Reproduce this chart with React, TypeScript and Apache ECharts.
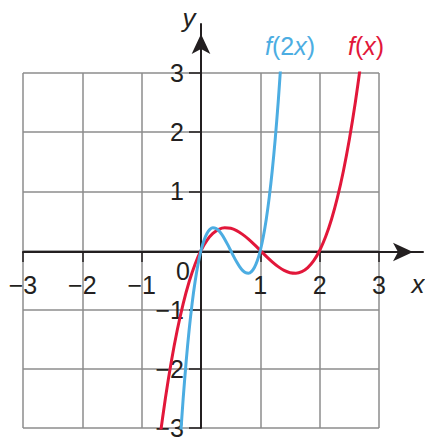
import React, { useEffect, useRef } from "react";
import * as echarts from "echarts";

// f(x) = x(x − 1)(x − 2), sampled along x
const fX = [-0.7, -0.6, -0.5, -0.4, -0.3, -0.2, -0.1, 0, 0.1, 0.2, 0.3, 0.4, 0.5, 0.6, 0.7, 0.8, 0.9, 1, 1.1, 1.2, 1.3, 1.4, 1.5, 1.6, 1.7, 1.8, 1.9, 2, 2.1, 2.2, 2.3, 2.4, 2.5, 2.6, 2.7];
const fY = [-3.213, -2.496, -1.875, -1.344, -0.897, -0.528, -0.231, 0, 0.171, 0.288, 0.357, 0.384, 0.375, 0.336, 0.273, 0.192, 0.099, 0, -0.099, -0.192, -0.273, -0.336, -0.375, -0.384, -0.357, -0.288, -0.171, 0, 0.231, 0.528, 0.897, 1.344, 1.875, 2.496, 3.213];

// f(2x): the same curve squeezed horizontally by a factor of two
const f2X = [-0.35, -0.3, -0.25, -0.2, -0.15, -0.1, -0.05, 0, 0.05, 0.1, 0.15, 0.2, 0.25, 0.3, 0.35, 0.4, 0.45, 0.5, 0.55, 0.6, 0.65, 0.7, 0.75, 0.8, 0.85, 0.9, 0.95, 1, 1.05, 1.1, 1.15, 1.2, 1.25, 1.3, 1.35];
const f2Y = [-3.213, -2.496, -1.875, -1.344, -0.897, -0.528, -0.231, 0, 0.171, 0.288, 0.357, 0.384, 0.375, 0.336, 0.273, 0.192, 0.099, 0, -0.099, -0.192, -0.273, -0.336, -0.375, -0.384, -0.357, -0.288, -0.171, 0, 0.231, 0.528, 0.897, 1.344, 1.875, 2.496, 3.213];

const tickValues = [-3, -2, -1, 1, 2, 3];

const RED = "#e2173a";
const BLUE = "#4cade2";
const INK = "#231f20";
const GRID = "#8c8c8c";
const FONT = "Liberation Sans, Arial, sans-serif";

const minus = (v: string | number) => String(v).replace("-", "\u2212");

const hiddenAxis = (gridIndex: number) => ({
  gridIndex,
  type: "value",
  min: 0,
  max: 1,
  show: false,
});

const arrowLine = {
  onZero: false,
  lineStyle: { color: INK, width: 2 },
  symbol: ["none", "arrow"],
  symbolSize: [14, 20],
  symbolOffset: [0, -10],
};

export default function App() {
  const ref = useRef<HTMLDivElement>(null);

  useEffect(() => {
    if (!ref.current) return;
    const chart = echarts.init(ref.current, null, { renderer: "svg" });

    const red = fX.map((x, i) => [x, fY[i]]);
    const blue = f2X.map((x, i) => [x, f2Y[i]]);

    chart.setOption({
      animation: false,
      grid: [
        // square graph-paper box from -3 to 3
        { left: 23, top: 73, width: 356, height: 355, outerBoundsMode: "none" },
        // horizontal axis: bottom edge of this grid sits on y = 0
        { left: 23, right: 2, top: 200, height: 52, outerBoundsMode: "none" },
        // vertical axis: left edge of this grid sits on x = 0
        { left: 201, width: 50, top: 24, bottom: 11, outerBoundsMode: "none" },
      ],
      xAxis: [
        {
          gridIndex: 0,
          type: "value",
          min: -3,
          max: 3,
          interval: 1,
          axisLine: { show: false },
          axisTick: { show: false },
          axisLabel: { show: false },
          splitLine: { show: true, lineStyle: { color: GRID, width: 1.5 } },
          z: 0,
        },
        {
          gridIndex: 1,
          type: "value",
          position: "bottom",
          min: -3,
          max: 3.742,
          interval: 1,
          z: 3,
          axisLine: arrowLine,
          axisTick: {
            show: true,
            length: 10,
            lineStyle: { color: INK, width: 1.5 },
            customValues: tickValues,
          },
          axisLabel: {
            customValues: tickValues,
            formatter: minus,
            fontFamily: FONT,
            fontSize: 25,
            color: INK,
            margin: 20,
          },
          splitLine: { show: false },
        },
        hiddenAxis(2),
      ],
      yAxis: [
        {
          gridIndex: 0,
          type: "value",
          min: -3,
          max: 3,
          interval: 1,
          axisLine: { show: false },
          axisTick: { show: false },
          axisLabel: { show: false },
          splitLine: { show: true, lineStyle: { color: GRID, width: 1.5 } },
          z: 0,
        },
        hiddenAxis(1),
        {
          gridIndex: 2,
          type: "value",
          position: "left",
          min: -3,
          max: 3.83,
          interval: 1,
          z: 3,
          axisLine: arrowLine,
          axisTick: {
            show: true,
            length: 12,
            lineStyle: { color: INK, width: 1.5 },
            customValues: tickValues,
          },
          axisLabel: {
            customValues: tickValues,
            formatter: minus,
            fontFamily: FONT,
            fontSize: 25,
            color: INK,
            margin: 17,
          },
          splitLine: { show: false },
        },
      ],
      series: [
        {
          name: "f(x)",
          type: "line",
          xAxisIndex: 0,
          yAxisIndex: 0,
          data: red,
          smooth: 0.3,
          showSymbol: false,
          clip: true,
          lineStyle: { color: RED, width: 3 },
          z: 5,
        },
        {
          name: "f(2x)",
          type: "line",
          xAxisIndex: 0,
          yAxisIndex: 0,
          data: blue,
          smooth: 0.3,
          showSymbol: false,
          clip: true,
          lineStyle: { color: BLUE, width: 3 },
          z: 6,
        },
      ],
      graphic: [
        {
          type: "text",
          x: 183,
          y: 271,
          style: {
            text: "0",
            fontFamily: FONT,
            fontSize: 25,
            fill: INK,
            align: "center",
            verticalAlign: "middle",
          },
        },
        {
          type: "text",
          x: 418,
          y: 284,
          style: {
            text: "x",
            fontFamily: FONT,
            fontStyle: "italic",
            fontSize: 26,
            fill: INK,
            align: "center",
            verticalAlign: "middle",
          },
        },
        {
          type: "text",
          x: 189,
          y: 18,
          style: {
            text: "y",
            fontFamily: FONT,
            fontStyle: "italic",
            fontSize: 26,
            fill: INK,
            align: "center",
            verticalAlign: "middle",
          },
        },
        {
          type: "text",
          x: 290,
          y: 46,
          style: {
            text: "{i|f}{n|(2}{i|x}{n|)}",
            align: "center",
            verticalAlign: "middle",
            rich: {
              i: { fontFamily: FONT, fontStyle: "italic", fontSize: 25, fill: BLUE, color: BLUE },
              n: { fontFamily: FONT, fontSize: 25, fill: BLUE, color: BLUE },
            },
          },
        },
        {
          type: "text",
          x: 366,
          y: 46,
          style: {
            text: "{i|f}{n|(}{i|x}{n|)}",
            align: "center",
            verticalAlign: "middle",
            rich: {
              i: { fontFamily: FONT, fontStyle: "italic", fontSize: 25, fill: RED, color: RED },
              n: { fontFamily: FONT, fontSize: 25, fill: RED, color: RED },
            },
          },
        },
      ],
    });

    return () => chart.dispose();
  }, []);

  return (
    <div
      ref={ref}
      style={{ position: "fixed", left: 0, top: 0, width: 425, height: 439, background: "#fff" }}
    />
  );
}
